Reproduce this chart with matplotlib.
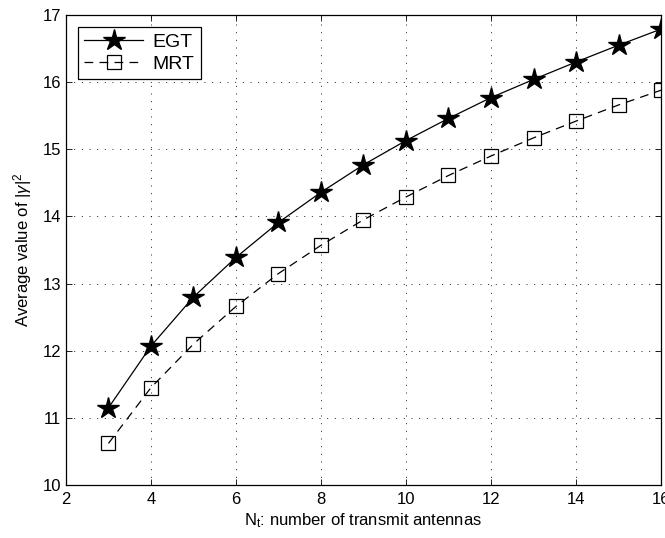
import matplotlib
matplotlib.use('Agg')
import matplotlib.pyplot as plt

##-------------data-------------
nt = [3, 4, 5, 6, 7, 8, 9, 10, 11, 12, 13, 14, 15, 16]
egt = [11.15, 12.07, 12.80, 13.39, 13.91, 14.36, 14.77, 15.13, 15.46, 15.77, 16.04, 16.30, 16.55, 16.79]
mrt = [10.62, 11.45, 12.10, 12.66, 13.15, 13.57, 13.95, 14.29, 14.61, 14.90, 15.17, 15.42, 15.66, 15.88]
xticks = [2, 4, 6, 8, 10, 12, 14, 16]
yticks = [10, 11, 12, 13, 14, 15, 16, 17]
##-----------------------------------------------------

plt.rcParams['font.family'] = ['Liberation Sans', 'DejaVu Sans']
plt.rcParams['font.size'] = 12
plt.rcParams['mathtext.fontset'] = 'custom'
plt.rcParams['mathtext.rm'] = 'Liberation Sans'
plt.rcParams['mathtext.it'] = 'Liberation Sans:italic'

fig = plt.figure(figsize=(6.65, 5.38), dpi=100)
ax = fig.add_axes([0.0992, 0.0985, 0.8948, 0.8736])

ax.plot(nt, egt, '-', color='k', lw=0.9, marker='*', markersize=16,
        markerfacecolor='k', markeredgecolor='k', label='EGT')
ax.plot(nt, mrt, '--', color='k', lw=0.9, dashes=(7, 5), marker='s', markersize=10,
        markerfacecolor='none', markeredgecolor='k', markeredgewidth=0.9, label='MRT')

ax.set_xlim(2, 16)
ax.set_ylim(10, 17)
ax.set_xticks(xticks)
ax.set_yticks(yticks)
ax.tick_params(direction='in', length=4, width=0.6, top=True, right=True, labelsize=12)
ax.tick_params(axis='x', pad=5)
ax.grid(True, linestyle=(0, (1.2, 8)), color='k', linewidth=0.6)
for s in ax.spines.values():
    s.set_linewidth(0.9)

ax.set_xlabel(r'N$_\mathregular{t}$: number of transmit antennas', labelpad=3)
ax.set_ylabel(r'Average value of |$\gamma$|$^\mathregular{2}$', labelpad=6)

leg = ax.legend(loc='upper left', fancybox=False, framealpha=1, edgecolor='k',
                fontsize=14, handlelength=3.0, borderaxespad=0.6, borderpad=0.35,
                labelspacing=0.2, handletextpad=0.5)
leg.get_frame().set_linewidth(0.9)

fig.savefig('out.png', dpi=100)
